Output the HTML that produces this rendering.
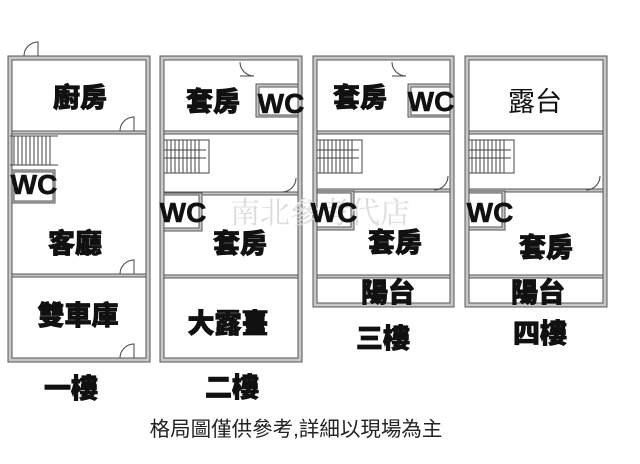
<!DOCTYPE html>
<html><head><meta charset="utf-8"><style>
html,body{margin:0;padding:0;background:#fff;}
svg{display:block}
.l{font-family:"Liberation Sans","Noto Sans CJK TC",sans-serif;font-weight:900;fill:#111;text-anchor:middle;stroke:#111;stroke-width:0.8;}
.w{font-family:"Liberation Sans",sans-serif;font-weight:bold;fill:#111;text-anchor:middle;stroke:#111;stroke-width:0.6;}
</style></head><body>
<svg width="640" height="464" viewBox="0 0 640 464" xmlns="http://www.w3.org/2000/svg">
<g stroke="#555" stroke-width="1">
<rect x="8" y="56" width="142" height="306" fill="#c8c8c8"/>
<rect x="12" y="60" width="134" height="298" fill="#fff"/>
<rect x="12" y="131" width="134" height="3" fill="#c8c8c8"/>
<rect x="12" y="274" width="134" height="3" fill="#c8c8c8"/>
<rect x="12" y="170" width="43" height="33" fill="#c8c8c8"/>
<rect x="14" y="172" width="39" height="29" fill="#fff"/>
<rect x="160" y="56" width="142" height="306" fill="#c8c8c8"/>
<rect x="164" y="60" width="134" height="298" fill="#fff"/>
<rect x="164" y="131" width="134" height="3" fill="#c8c8c8"/>
<rect x="164" y="192" width="134" height="3" fill="#c8c8c8"/>
<rect x="164" y="275" width="134" height="3" fill="#c8c8c8"/>
<rect x="256" y="84" width="42" height="33" fill="#c8c8c8"/>
<rect x="259" y="87" width="39" height="28" fill="#fff"/>
<rect x="164" y="193" width="38" height="38" fill="#c8c8c8"/>
<rect x="164" y="195" width="35" height="33" fill="#fff"/>
<rect x="313" y="56" width="141" height="251" fill="#c8c8c8"/>
<rect x="317" y="60" width="133" height="243" fill="#fff"/>
<rect x="317" y="131" width="133" height="3" fill="#c8c8c8"/>
<rect x="317" y="189" width="133" height="3" fill="#c8c8c8"/>
<rect x="317" y="275" width="133" height="3" fill="#c8c8c8"/>
<rect x="408" y="84" width="42" height="33" fill="#c8c8c8"/>
<rect x="411" y="87" width="39" height="28" fill="#fff"/>
<rect x="317" y="191" width="37" height="39" fill="#c8c8c8"/>
<rect x="317" y="193" width="34" height="34" fill="#fff"/>
<rect x="465" y="56" width="142" height="251" fill="#c8c8c8"/>
<rect x="469" y="60" width="134" height="243" fill="#fff"/>
<rect x="469" y="131" width="134" height="3" fill="#c8c8c8"/>
<rect x="469" y="189" width="134" height="3" fill="#c8c8c8"/>
<rect x="469" y="275" width="134" height="3" fill="#c8c8c8"/>
<rect x="469" y="191" width="36" height="39" fill="#c8c8c8"/>
<rect x="469" y="193" width="33" height="34" fill="#fff"/>
</g>
<g stroke="#444" stroke-width="1" fill="none">
<path d="M10 136h48M10 165h48"/>
<path d="M14 136v29M18 136v29M22 136v29M26 136v29M30 136v29M34 136v29M38 136v29M42 136v29M46 136v29M50 136v29"/>
<path d="M164 140h45v33h-45M164 150h42M164 158h42M167 140v33M171 140v33M175 140v33M179 140v33M183 140v33M187 140v33M191 140v33M195 140v33M199 140v33"/>
<path d="M317 140h45v33h-45M317 150h42M317 158h42M320 140v33M324 140v33M328 140v33M332 140v33M336 140v33M340 140v33M344 140v33M348 140v33M352 140v33"/>
<path d="M469 140h45v33h-45M469 150h42M469 158h42M472 140v33M476 140v33M480 140v33M484 140v33M488 140v33M492 140v33M496 140v33M500 140v33M504 140v33"/>
<path d="M24 56a14 14 0 0 1 14 -14v14"/>
<path d="M120 131a14 14 0 0 1 14 -14v14"/>
<path d="M120 274a14 14 0 0 1 14 -14v14"/>
<path d="M120 358a14 14 0 0 1 14 -14v14"/>
<path d="M240 62a14 14 0 0 0 14 14h-14"/>
<path d="M282 192a14 14 0 0 0 14 -14"/>
<path d="M392 62a14 14 0 0 0 14 14h-14"/>
<path d="M434 190a14 14 0 0 0 14 -14"/>
<path d="M586 190a14 14 0 0 0 14 -14"/>
</g>
<text x="320" y="223" font-family="'Noto Serif CJK SC',serif" font-size="30" fill="#ddd" text-anchor="middle">南北參考代店</text>
<g class="l" font-size="27">
<text x="80" y="107">廚房</text>
<text x="75" y="253">客廳</text>
<text x="78" y="325">雙車庫</text>
<text x="71" y="398">一樓</text>
<text x="213" y="111">套房</text>
<text x="240" y="253">套房</text>
<text x="228" y="333">大露臺</text>
<text x="232" y="397">二樓</text>
<text x="360" y="107">套房</text>
<text x="395" y="252">套房</text>
<text x="388" y="302">陽台</text>
<text x="383" y="348">三樓</text>
<text x="535" y="111" font-weight="normal" stroke-width="0">露台</text>
<text x="546" y="257">套房</text>
<text x="538" y="302">陽台</text>
<text x="540" y="343">四樓</text>
</g>
<g class="w" font-size="28">
<text x="34" y="194">WC</text>
<text x="281" y="113">WC</text>
<text x="183" y="222">WC</text>
<text x="431" y="111">WC</text>
<text x="334" y="222">WC</text>
<text x="490" y="222">WC</text>
</g>
<text x="296" y="436" font-family="'Liberation Sans','Noto Sans CJK TC',sans-serif" font-size="20.5" fill="#222" text-anchor="middle">格局圖僅供參考,詳細以現場為主</text>
</svg>
</body></html>
